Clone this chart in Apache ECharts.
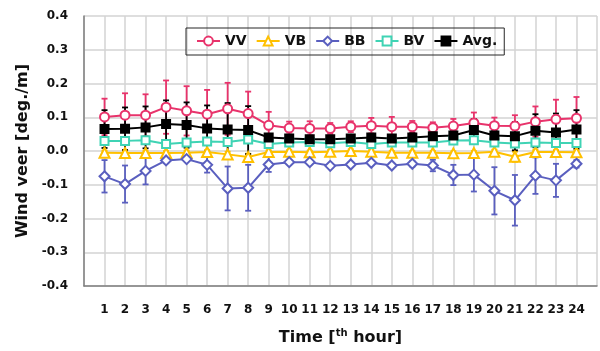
<!DOCTYPE html>
<html>
<head>
<meta charset="utf-8">
<script src="https://cdn.jsdelivr.net/npm/echarts@6/dist/echarts.min.js"></script>
<style>
  html, body { margin: 0; padding: 0; background: #fff; }
  #chart { width: 600px; height: 351px; }
</style>
</head>
<body>
<div id="chart"></div>
<script>
// Hour of day (x) and y-axis tick range
const hours = [1, 2, 3, 4, 5, 6, 7, 8, 9, 10, 11, 12, 13, 14, 15, 16, 17, 18, 19, 20, 21, 22, 23, 24];
const yTickMin = -0.4;
const yTickMax = 0.4;
const yTickStep = 0.1;

// Mean wind veer per hour [deg./m] and one standard deviation
const vv = [0.101, 0.106, 0.106, 0.130, 0.119, 0.109, 0.125, 0.111, 0.076, 0.068, 0.067, 0.067, 0.072, 0.075, 0.072, 0.072, 0.069, 0.074, 0.083, 0.075, 0.074, 0.087, 0.094, 0.097];
const vvErr = [0.054, 0.065, 0.062, 0.079, 0.073, 0.072, 0.077, 0.065, 0.040, 0.019, 0.021, 0.016, 0.016, 0.023, 0.029, 0.017, 0.016, 0.021, 0.031, 0.024, 0.032, 0.045, 0.058, 0.063];

const vb = [-0.005, -0.006, -0.006, -0.006, -0.005, -0.003, -0.010, -0.018, -0.003, -0.002, -0.004, -0.002, 0.000, -0.002, -0.005, -0.005, -0.005, -0.007, -0.006, -0.002, -0.017, -0.003, -0.003, -0.004];
const vbErr = [0.006, 0.006, 0.006, 0.006, 0.006, 0.006, 0.008, 0.010, 0.005, 0.005, 0.005, 0.005, 0.005, 0.005, 0.005, 0.005, 0.005, 0.006, 0.006, 0.006, 0.015, 0.006, 0.006, 0.006];

const bb = [-0.075, -0.098, -0.059, -0.028, -0.024, -0.041, -0.111, -0.109, -0.040, -0.033, -0.033, -0.044, -0.040, -0.035, -0.043, -0.038, -0.043, -0.071, -0.070, -0.118, -0.146, -0.073, -0.087, -0.038];
const bbErr = [0.048, 0.055, 0.040, 0.008, 0.006, 0.023, 0.065, 0.068, 0.022, 0.006, 0.006, 0.006, 0.006, 0.006, 0.006, 0.008, 0.017, 0.030, 0.050, 0.070, 0.075, 0.054, 0.049, 0.011];

const bv = [0.030, 0.030, 0.032, 0.021, 0.025, 0.028, 0.027, 0.034, 0.021, 0.025, 0.027, 0.023, 0.027, 0.021, 0.025, 0.025, 0.025, 0.031, 0.032, 0.025, 0.022, 0.025, 0.024, 0.024];
const bvErr = [0.005, 0.005, 0.005, 0.005, 0.005, 0.005, 0.005, 0.005, 0.004, 0.004, 0.004, 0.004, 0.004, 0.004, 0.004, 0.004, 0.004, 0.004, 0.005, 0.005, 0.005, 0.005, 0.005, 0.005];

const avg = [0.065, 0.066, 0.070, 0.080, 0.077, 0.067, 0.064, 0.062, 0.040, 0.037, 0.035, 0.035, 0.037, 0.040, 0.037, 0.040, 0.044, 0.046, 0.062, 0.046, 0.044, 0.060, 0.055, 0.064];
const avgErr = [0.056, 0.063, 0.062, 0.070, 0.067, 0.068, 0.078, 0.071, 0.010, 0.010, 0.010, 0.010, 0.010, 0.010, 0.010, 0.012, 0.016, 0.014, 0.033, 0.016, 0.042, 0.049, 0.056, 0.057];

const seriesNames = ['VV', 'VB', 'BB', 'BV', 'Avg.'];
const colors = { VV: '#E8336B', VB: '#FFC000', BB: '#5A5FBF', BV: '#3FD3B4', 'Avg.': '#000000' };

const FONT = 'DejaVu Sans';

function pairs(values) {
  return hours.map((h, i) => [h, values[i]]);
}

// Vertical error bar with caps at mean ± err
function errorSeries(name, means, errs) {
  const color = colors[name];
  return {
    type: 'custom',
    name: name + ' sd',
    z: 1,
    silent: true,
    data: hours.map((h, i) => [h, means[i] - errs[i], means[i] + errs[i]]),
    encode: { x: 0, y: [1, 2] },
    renderItem: (params, api) => {
      const lo = api.coord([api.value(0), api.value(1)]);
      const hi = api.coord([api.value(0), api.value(2)]);
      const w = 3;
      const style = { stroke: color, lineWidth: 1.8 };
      return {
        type: 'group',
        children: [
          { type: 'line', shape: { x1: lo[0], y1: lo[1], x2: hi[0], y2: hi[1] }, style },
          { type: 'line', shape: { x1: hi[0] - w, y1: hi[1], x2: hi[0] + w, y2: hi[1] }, style },
          { type: 'line', shape: { x1: lo[0] - w, y1: lo[1], x2: lo[0] + w, y2: lo[1] }, style }
        ]
      };
    }
  };
}

function lineSeries(name, values, symbol, size) {
  const color = colors[name];
  return {
    type: 'line',
    name,
    z: 3,
    data: pairs(values),
    symbol,
    symbolSize: size,
    showAllSymbol: true,
    lineStyle: { color, width: 2 },
    itemStyle: { color, borderColor: color, borderWidth: 2 }
  };
}

const chart = echarts.init(document.getElementById('chart'), null, { renderer: 'canvas' });

chart.setOption({
  animation: false,
  backgroundColor: '#ffffff',
  grid: { left: 84, right: 1, top: 16, bottom: 65, containLabel: false },
  legend: {
    data: seriesNames,
    left: 186,
    top: 28,
    padding: [6, 7, 7, 10],
    itemWidth: 23,
    itemHeight: 11,
    itemGap: 9,
    borderColor: '#262626',
    borderWidth: 1,
    textStyle: { fontFamily: FONT, fontWeight: 'bold', fontSize: 14, color: '#111' }
  },
  xAxis: {
    type: 'value',
    min: 0,
    max: hours.length + 1,
    interval: 1,
    axisLine: { onZero: false, lineStyle: { color: '#7f7f7f', width: 1.5 } },
    axisTick: { show: false },
    splitLine: { show: true, lineStyle: { color: '#d3d3d3', width: 1.5 } },
    axisLabel: {
      margin: 18,
      fontFamily: FONT,
      fontWeight: 'bold',
      fontSize: 12,
      color: '#111',
      formatter: v => (hours.includes(v) ? String(v) : '')
    },
    name: '{a|Time [}{s|th}{a| hour]}',
    nameLocation: 'middle',
    nameGap: 42,
    nameTextStyle: {
      rich: {
        a: { fontFamily: FONT, fontWeight: 'bold', fontSize: 16, color: '#111', lineHeight: 20 },
        s: { fontFamily: FONT, fontWeight: 'bold', fontSize: 10, color: '#111', verticalAlign: 'top', lineHeight: 20, padding: [0, 0, 6, 0] }
      }
    }
  },
  yAxis: {
    type: 'value',
    min: yTickMin,
    max: yTickMax,
    interval: yTickStep,
    axisLine: { show: true, onZero: false, lineStyle: { color: '#7f7f7f', width: 1.5 } },
    axisTick: { show: false },
    splitLine: { show: true, lineStyle: { color: '#d3d3d3', width: 1.5 } },
    axisLabel: {
      margin: 16,
      fontFamily: FONT,
      fontWeight: 'bold',
      fontSize: 12,
      color: '#111',
      formatter: v => v.toFixed(1)
    },
    name: 'Wind veer [deg./m]',
    nameLocation: 'middle',
    nameRotate: 90,
    nameGap: 49,
    nameTextStyle: { fontFamily: FONT, fontWeight: 'bold', fontSize: 16, color: '#111' }
  },
  series: [
    errorSeries('VV', vv, vvErr),
    errorSeries('VB', vb, vbErr),
    errorSeries('BB', bb, bbErr),
    errorSeries('BV', bv, bvErr),
    errorSeries('Avg.', avg, avgErr),
    lineSeries('VV', vv, 'emptyCircle', 9),
    lineSeries('VB', vb, 'emptyTriangle', 10),
    lineSeries('BB', bb, 'emptyDiamond', 10),
    lineSeries('BV', bv, 'emptyRect', 8),
    lineSeries('Avg.', avg, 'rect', 8)
  ]
});
</script>
</body>
</html>
